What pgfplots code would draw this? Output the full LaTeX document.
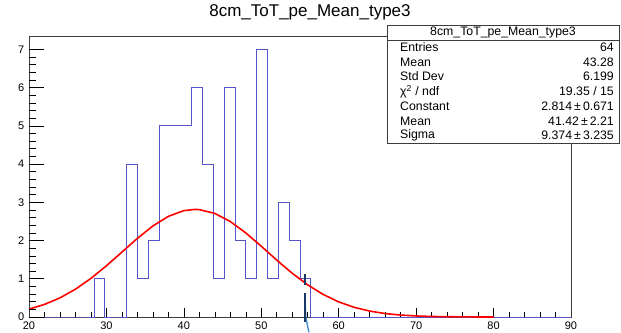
\documentclass[border=0pt]{standalone}
\usepackage{pgfplots}
\pgfplotsset{compat=1.18}
\usepackage{fontspec}
\setmainfont{Liberation Sans}
\definecolor{histblue}{RGB}{85,85,200}
\definecolor{framegray}{RGB}{60,60,60}
\definecolor{navy}{RGB}{25,55,100}
\definecolor{lightblue}{RGB}{70,140,210}
\begin{document}
\begin{tikzpicture}
\path[use as bounding box] (-29pt,-15pt) rectangle (592pt,317pt);
% main axis: x ticks, data
\begin{axis}[
  at={(0pt,0pt)}, anchor=south west,
  scale only axis, width=542pt, height=281pt,
  xmin=20, xmax=90, ymin=0, ymax=7.35,
  xtick={20,30,...,90}, minor x tick num=4,
  ytick=\empty,
  tick align=inside, xtick pos=bottom,
  major tick length=9pt, minor tick length=4.5pt,
  axis line style={framegray, line width=0.8pt},
  every tick/.style={black, line width=0.6pt},
  tick label style={font=\fontsize{11}{12}\selectfont},
  xticklabel style={yshift=-1.2pt},
  /pgf/number format/assume math mode=true,
  clip=false,
]
\addplot[const plot mark left, histblue, line width=0.9pt] coordinates {
(20.0,0) (21.4,0) (22.8,0) (24.2,0) (25.6,0) (27.0,0) (28.4,1) (29.8,0) (31.2,0)
(32.6,4) (34.0,1) (35.4,2) (36.8,5) (38.2,5) (39.6,5) (41.0,6) (42.4,4) (43.8,1)
(45.2,6) (46.6,2) (48.0,1) (49.4,7) (50.8,1) (52.2,3) (53.6,2) (55.0,1) (56.4,0) (90,0)
};
\addplot[red, line width=1.6pt] coordinates {
(20,0.207) (22,0.329) (24,0.500) (26,0.727) (28,1.010) (30,1.340) (32,1.698)
(34,2.057) (36,2.381) (38,2.633) (40,2.782) (41.4,2.814) (42,2.809) (44,2.709)
(46,2.497) (48,2.199) (50,1.851) (52,1.488) (54,1.143) (56,0.839) (58,0.589)
(60,0.395) (62,0.253) (64,0.155) (66,0.090) (68,0.051) (70,0.027) (72,0.014)
(74,0.007) (76,0.003) (78,0.001) (80,0.0006)
};
\addplot[lightblue, line width=1.4pt] coordinates {(55.68,0.35) (55.75,0.0) (56.15,-0.4)};
\addplot[navy, line width=2pt] coordinates {(55.65,1.12) (55.65,0.84)};
\addplot[navy, line width=2pt] coordinates {(55.65,0.63) (55.65,-0.12)};
\end{axis}
% overlay axis: y ticks
\begin{axis}[
  at={(0pt,0pt)}, anchor=south west,
  scale only axis, width=542pt, height=281pt,
  xmin=20, xmax=90, ymin=0, ymax=7.35,
  xtick=\empty,
  ytick={0,1,...,7}, minor y tick num=4,
  tick align=inside, ytick pos=left,
  major tick length=15pt, minor tick length=7.5pt,
  axis line style={draw=none},
  every tick/.style={black, line width=0.6pt},
  tick label style={font=\fontsize{11}{12}\selectfont},
  yticklabel style={xshift=-1.2pt},
  /pgf/number format/assume math mode=true,
]
\end{axis}
% title
\node[font=\fontsize{17}{19}\selectfont] at (281pt,305pt) {8cm\_ToT\_pe\_Mean\_type3};
% stats box
\draw[framegray, line width=0.8pt, fill=white] (358pt,174pt) rectangle (590.5pt,292pt);
\draw[framegray, line width=0.8pt] (358pt,277pt) -- (590.5pt,277pt);
\node[font=\fontsize{12.3}{13}\selectfont] at (474pt,284.5pt) {8cm\_ToT\_pe\_Mean\_type3};
\begin{scope}[every node/.style={font=\fontsize{12.3}{13}\selectfont, inner sep=0pt}]
\node[anchor=west] at (371pt,270pt) {Entries};
\node[anchor=west] at (371pt,255pt) {Mean};
\node[anchor=west] at (371pt,240.5pt) {Std Dev};
\node[anchor=west] at (371pt,225.5pt) {χ\textsuperscript{2} / ndf};
\node[anchor=west] at (371pt,210.5pt) {Constant};
\node[anchor=west] at (371pt,196pt) {Mean};
\node[anchor=west] at (371pt,181.5pt) {Sigma};
\node[anchor=east] at (585pt,270pt) {64};
\node[anchor=east] at (585pt,255pt) {43.28};
\node[anchor=east] at (585pt,240.5pt) {6.199};
\node[anchor=east] at (585pt,225.5pt) {19.35 / 15};
\node[anchor=east] at (585pt,210.5pt) {2.814\,±\,0.671};
\node[anchor=east] at (585pt,196pt) {41.42\,±\,2.21};
\node[anchor=east] at (585pt,181.5pt) {9.374\,±\,3.235};
\end{scope}
\end{tikzpicture}
\end{document}
